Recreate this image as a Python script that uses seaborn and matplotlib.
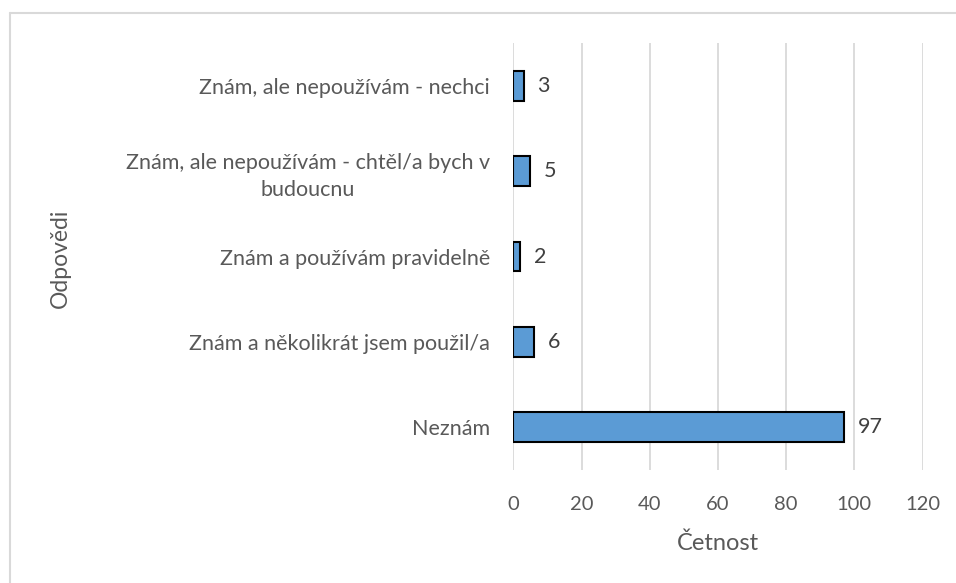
import matplotlib
matplotlib.use("Agg")
import matplotlib.pyplot as plt
import seaborn as sns
import pandas as pd

categories = [
    "Znám, ale nepoužívám - nechci",
    "Znám, ale nepoužívám - chtěl/a bych v\nbudoucnu",
    "Znám a používám pravidelně",
    "Znám a několikrát jsem použil/a",
    "Neznám",
]
counts = [3, 5, 2, 6, 97]
x_ticks = [0, 20, 40, 60, 80, 100, 120]

df = pd.DataFrame({"Odpovědi": categories, "Četnost": counts})

sns.set_style("white")
plt.rcParams["font.family"] = ["Lato", "DejaVu Sans"]
text_col = "#595959"

fig = plt.figure(figsize=(9.56, 5.83), dpi=100)
ax = fig.add_axes([0.537, 0.194, 0.428, 0.732])

sns.barplot(data=df, y="Odpovědi", x="Četnost", orient="h", color="#5B9BD5",
            edgecolor="black", linewidth=1.5, width=0.35, saturation=1, ax=ax)

for i, v in enumerate(counts):
    ax.text(v + 4, i, str(v), va="center", ha="left", fontsize=15.5, color="#404040")

ax.set_xlim(0, 120)
ax.set_xticks(x_ticks)
ax.set_ylim(4.5, -0.5)
ax.grid(axis="x", color="#d9d9d9", linewidth=1.3)
ax.set_axisbelow(True)
for s in ax.spines.values():
    s.set_visible(False)
ax.tick_params(axis="x", length=0, labelsize=14.5, colors=text_col, pad=19)
ax.tick_params(axis="y", length=0, labelsize=15.5, colors=text_col, pad=17)
for lbl in ax.get_yticklabels():
    lbl.set_multialignment("center")
    lbl.set_linespacing(1.4)

ax.set_xlabel("Četnost", fontsize=17, color=text_col, labelpad=14)
ax.set_ylabel("")
fig.text(60 / 956, 1 - 258 / 583, "Odpovědi", rotation=90, fontsize=16.5,
         color=text_col, ha="center", va="center")

# light frame of the chart area
fig.add_artist(plt.Line2D([10 / 956, 10 / 956], [0, 1 - 13 / 583], color="#d9d9d9", lw=1.5))
fig.add_artist(plt.Line2D([10 / 956, 1], [1 - 13 / 583, 1 - 13 / 583], color="#d9d9d9", lw=1.5))

fig.savefig("out.png", dpi=100)
